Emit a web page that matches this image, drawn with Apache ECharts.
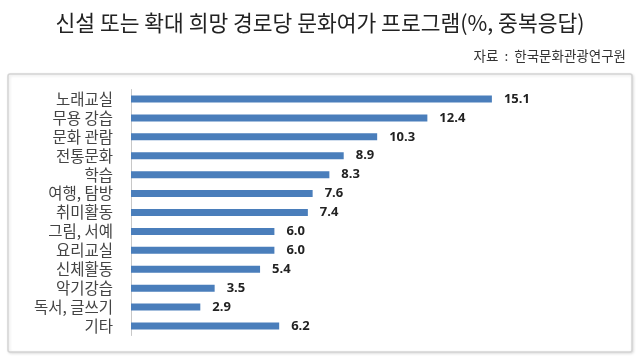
<!DOCTYPE html>
<html><head><meta charset="utf-8">
<script src="https://cdn.jsdelivr.net/npm/echarts@6/dist/echarts.min.js"></script>
<style>html,body{margin:0;padding:0;background:#fff}#c{width:640px;height:362px}</style>
</head><body><div id="c"></div>
<script>
const categories = ['노래교실','무용 강습','문화 관람','전통문화','학습','여행, 탐방','취미활동','그림, 서예','요리교실','신체활동','악기강습','독서, 글쓰기','기타'];
const values = [15.1, 12.4, 10.3, 8.9, 8.3, 7.6, 7.4, 6.0, 6.0, 5.4, 3.5, 2.9, 6.2];
const titleText = '신설 또는 확대 희망 경로당 문화여가 프로그램(%, 중복응답)';
const sourceText = '자료  :  한국문화관광연구원';

const chart = echarts.init(document.getElementById('c'), null, {renderer:'canvas'});
const font = '"Noto Sans CJK KR", "Noto Sans", sans-serif';
chart.setOption({
  animation: false,
  textStyle: {fontFamily: font},
  title: [
    {text: titleText, left: 'center', top: 7, textStyle: {fontSize: 21.5, fontWeight: 'normal', color: '#222', fontFamily: font}},
    {text: sourceText, right: 9, top: 44, textStyle: {fontSize: 13.5, fontWeight: 'normal', color: '#333', fontFamily: font}}
  ],
  graphic: [{
    type: 'rect', shape: {x: 8, y: 74, width: 624, height: 278, r: 2},
    style: {fill: '#fff', stroke: '#d4d4d4', lineWidth: 1.5, shadowBlur: 3, shadowColor: 'rgba(0,0,0,0.12)', shadowOffsetX: 1, shadowOffsetY: 1},
    z: -10
  }],
  grid: {left: 131, top: 89.5, width: 478, height: 246, containLabel: false},
  xAxis: {type: 'value', min: 0, max: 20, show: false},
  yAxis: {
    type: 'category', data: categories, inverse: true,
    axisLine: {show: true, lineStyle: {color: '#c8c8c8', width: 1}},
    axisTick: {show: false},
    axisLabel: {interval: 0, fontSize: 15.5, color: '#444', margin: 18, fontFamily: font}
  },
  series: [{
    type: 'bar', data: values, barWidth: 7,
    itemStyle: {color: '#4a7ebb'},
    label: {show: true, position: 'right', distance: 12, fontSize: 13, fontWeight: 'bold', color: '#222',
      fontFamily: '"Open Sans", sans-serif',
      formatter: p => p.value.toFixed(1)}
  }]
});
</script></body></html>
